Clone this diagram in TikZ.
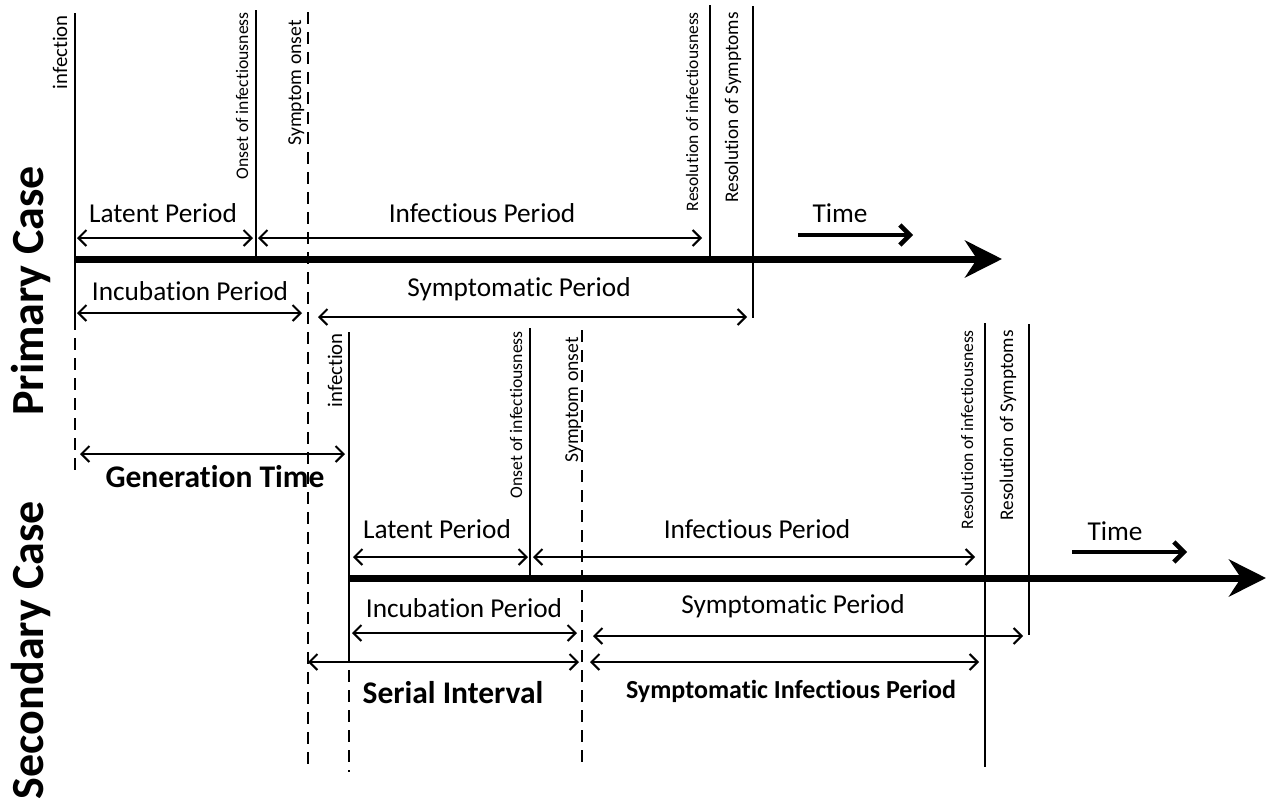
\documentclass[tikz,border=0pt]{standalone}
\usepackage{fontspec}
\setmainfont{Carlito}[Ligatures=NoCommon]
\usetikzlibrary{arrows.meta}
\tikzset{
  vline/.style={line width=2pt},
  dline/.style={line width=2pt, dash pattern=on 12pt off 8pt},
  span/.style={line width=2pt, {Straight Barb[length=8pt,width=16pt]}-{Straight Barb[length=8pt,width=16pt]}},
  axisline/.style={line width=7pt, -{Stealth[length=37pt,width=37pt,inset=12pt]}},
  timearrow/.style={line width=4.5pt, -{Straight Barb[length=10pt,width=20pt]}},
  lbl/.style={inner sep=0pt, anchor=base, font=\fontsize{27.3}{30}\selectfont},
  blbl/.style={inner sep=0pt, anchor=base, font=\fontsize{31.5}{34}\selectfont\bfseries},
  vlbl/.style={inner sep=0pt, rotate=90, anchor=base east},
  caselbl/.style={inner sep=0pt, rotate=90, anchor=base, font=\fontsize{46}{50}\selectfont\bfseries}
}
\begin{document}
\begin{tikzpicture}[x=1pt,y=1pt]
\useasboundingbox (0,0) rectangle (1266,-798);
% ---------- Primary case coordinates
\coordinate (pI1) at (75,-13);  \coordinate (pI2) at (75,-318); \coordinate (pI3) at (75,-472);
\coordinate (pO1) at (256,-10); \coordinate (pO2) at (256,-263);
\coordinate (pS1) at (308,-12); \coordinate (pS2) at (308,-768);
\coordinate (pRI1) at (710,-5); \coordinate (pRI2) at (710,-263);
\coordinate (pRS1) at (753,-6); \coordinate (pRS2) at (753,-318);
\coordinate (pA1) at (75,-259); \coordinate (pA2) at (1002,-259);
\coordinate (pT1) at (798,-235); \coordinate (pT2) at (913,-235);
\coordinate (pLa1) at (77,-238); \coordinate (pLa2) at (253,-238);
\coordinate (pIn1) at (258,-238); \coordinate (pIn2) at (702,-238);
\coordinate (pIc1) at (77,-313); \coordinate (pIc2) at (302,-313);
\coordinate (pSy1) at (318,-317); \coordinate (pSy2) at (747,-317);
\coordinate (gen1) at (80,-454); \coordinate (gen2) at (345,-454);
% ---------- Secondary case coordinates
\coordinate (sI1) at (349,-332); \coordinate (sI2) at (349,-650); \coordinate (sI3) at (349,-772);
\coordinate (sO1) at (530,-328); \coordinate (sO2) at (530,-578);
\coordinate (sS1) at (582,-330); \coordinate (sS2) at (582,-764);
\coordinate (sRI1) at (985,-323); \coordinate (sRI2) at (985,-767);
\coordinate (sRS1) at (1029,-324); \coordinate (sRS2) at (1029,-635);
\coordinate (sA1) at (349,-578); \coordinate (sA2) at (1266,-578);
\coordinate (sT1) at (1072,-552); \coordinate (sT2) at (1187,-552);
\coordinate (sLa1) at (353,-557); \coordinate (sLa2) at (528,-557);
\coordinate (sIn1) at (533,-557); \coordinate (sIn2) at (975,-557);
\coordinate (sIc1) at (352,-633); \coordinate (sIc2) at (577,-633);
\coordinate (sSy1) at (593,-636); \coordinate (sSy2) at (1023,-636);
\coordinate (ser1) at (308,-662); \coordinate (ser2) at (579,-662);
\coordinate (spi1) at (590,-662); \coordinate (spi2) at (979,-662);
% ---------- vertical event lines
\draw[vline] (pI1) -- (pI2);
\draw[dline] (pI2) -- (pI3);
\draw[vline] (pO1) -- (pO2);
\draw[dline] (pS1) -- (pS2);
\draw[vline] (pRI1) -- (pRI2);
\draw[vline] (pRS1) -- (pRS2);
\draw[vline] (sI1) -- (sI2);
\draw[dline] (sI2) -- (sI3);
\draw[vline] (sO1) -- (sO2);
\draw[dline] (sS1) -- (sS2);
\draw[vline] (sRI1) -- (sRI2);
\draw[vline] (sRS1) -- (sRS2);
% ---------- time axes
\draw[axisline] (pA1) -- (pA2);
\draw[axisline] (sA1) -- (sA2);
\draw[timearrow] (pT1) -- (pT2);
\draw[timearrow] (sT1) -- (sT2);
% ---------- spans
\draw[span] (pLa1) -- (pLa2);
\draw[span] (pIn1) -- (pIn2);
\draw[span] (pIc1) -- (pIc2);
\draw[span] (pSy1) -- (pSy2);
\draw[span] (gen1) -- (gen2);
\draw[span] (sLa1) -- (sLa2);
\draw[span] (sIn1) -- (sIn2);
\draw[span] (sIc1) -- (sIc2);
\draw[span] (sSy1) -- (sSy2);
\draw[span] (ser1) -- (ser2);
\draw[span] (spi1) -- (spi2);
% ---------- vertical labels
\node[vlbl, font=\fontsize{20.8}{22}\selectfont] (tpI) at (67,-15) {infection};
\node[vlbl, font=\fontsize{17.7}{20}\selectfont] (tpO) at (248,-12) {Onset of infectiousness};
\node[vlbl, font=\fontsize{19.7}{22}\selectfont] (tpS) at (301,-20) {Symptom onset};
\node[vlbl, font=\fontsize{17.5}{20}\selectfont] (tpRI) at (698,-12) {Resolution of infectiousness};
\node[vlbl, font=\fontsize{19.3}{22}\selectfont] (tpRS) at (738,-12) {Resolution of Symptoms};
\node[vlbl, font=\fontsize{20.8}{22}\selectfont] (tsI) at (342,-333) {infection};
\node[vlbl, font=\fontsize{17.7}{20}\selectfont] (tsO) at (522,-331) {Onset of infectiousness};
\node[vlbl, font=\fontsize{19.7}{22}\selectfont] (tsS) at (578,-337) {Symptom onset};
\node[vlbl, font=\fontsize{17.5}{20}\selectfont] (tsRI) at (973,-330) {Resolution of infectiousness};
\node[vlbl, font=\fontsize{19.3}{22}\selectfont] (tsRS) at (1013,-330) {Resolution of Symptoms};
% ---------- horizontal labels
\node[lbl] (lpLa) at (163,-222) {Latent Period};
\node[lbl] (lpIn) at (482,-222) {Infectious Period};
\node[lbl] (lpIc) at (190,-300) {Incubation Period};
\node[lbl] (lpSy) at (519,-296) {Symptomatic Period};
\node[lbl] (lpT) at (840,-222) {Time};
\node[lbl] (lsLa) at (437,-538) {Latent Period};
\node[lbl] (lsIn) at (757,-538) {Infectious Period};
\node[lbl] (lsIc) at (464,-617) {Incubation Period};
\node[lbl] (lsSy) at (793,-613) {Symptomatic Period};
\node[lbl] (lsT) at (1115,-540) {Time};
\node[blbl] (lgen) at (215,-487) {Generation Time};
\node[blbl] (lser) at (453,-703) {Serial Interval};
\node[blbl, font=\fontsize{26}{28}\selectfont\bfseries] (lspi) at (791,-698) {Symptomatic Infectious Period};
% ---------- case labels
\node[caselbl] (cP) at (43,-291) {Primary Case};
\node[caselbl] (cS) at (43,-650) {Secondary Case};
\end{tikzpicture}
\end{document}
